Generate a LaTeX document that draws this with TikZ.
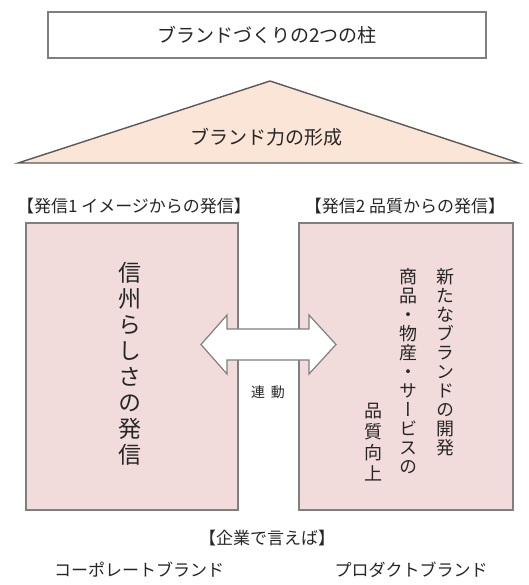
\documentclass[tikz,border=0pt]{standalone}
\usepackage{fontspec}
\usetikzlibrary{shadows}
\newfontfamily\jp{Noto Sans CJK JP}
\newfontfamily\jpv[RawFeature=+vert]{Noto Sans CJK JP}
\definecolor{pinkfill}{HTML}{F2DCDB}
\definecolor{peach}{HTML}{FBE5D6}
\definecolor{edge}{HTML}{7F7F7F}
\definecolor{ink}{HTML}{262626}
\begin{document}
\begin{tikzpicture}[x=1pt,y=-1pt,
  every node/.style={inner sep=0pt, text=ink},
  shadowbox/.style={draw=edge, line width=1.3pt,
    drop shadow={shadow xshift=1.2pt, shadow yshift=-1.2pt, fill=gray!60, opacity=0.8}},
  titlebox/.style={shadowbox, fill=white},
  pinkbox/.style={shadowbox, fill=pinkfill},
  tri/.style={draw=black!65, line width=1.4pt, fill=peach, line join=miter},
  fatarrow/.style={draw=edge, line width=1.2pt, fill=white, line join=miter},
  bigtxt/.style={font=\jp\fontsize{19}{19}\selectfont},
  midtxt/.style={font=\jp\fontsize{17}{17}\selectfont},
  smalltxt/.style={font=\jp\fontsize{14}{14}\selectfont},
  vleft/.style={anchor=north, align=center, font=\jpv\fontsize{23}{26}\selectfont},
  vright/.style={anchor=north, align=center, font=\jpv\fontsize{18}{19}\selectfont}
]
\useasboundingbox (0,0) rectangle (528,585);

% title box
\node[titlebox, minimum width=438pt, minimum height=46pt] (title) at (267,35) {};
\node[bigtxt] (titletxt) at (title.center) {ブランドづくりの2つの柱};

% roof triangle
\coordinate (tl) at (18,163);
\coordinate (tt) at (270,81);
\coordinate (tr) at (519,163);
\draw[tri] (tl) -- (tt) -- (tr) -- cycle;
\node[bigtxt] (rooftxt) at (266,137) {ブランド力の形成};

% column headings
\node[midtxt] (lhead) at (134,206) {【発信1 イメージからの発信】};
\node[midtxt] (rhead) at (405,206) {【発信2 品質からの発信】};

% pillars
\node[pinkbox, minimum width=212pt, minimum height=287pt] (lbox) at (132,366.5) {};
\node[pinkbox, minimum width=214pt, minimum height=287pt] (rbox) at (406,366.5) {};

% vertical texts
\node[vleft] (ltext) at (130,262) {信\\州\\ら\\し\\さ\\の\\発\\信};
\node[vright] (rcol1) at (445,268) {新\\た\\な\\ブ\\ラ\\ン\\ド\\の\\開\\発};
\node[vright] (rcol2) at (408,268) {商\\品\\・\\物\\産\\・\\サ\\ー\\ビ\\ス\\の};
\node[vright, font=\jpv\fontsize{18}{21}\selectfont] (rcol3) at (373,403) {品\\質\\向\\上};

% double arrow
\coordinate (al) at (201,344.5);
\coordinate (ar) at (336,344.5);
\draw[fatarrow] (al) -- (227,315) -- (227,329) -- (309,329) -- (309,315) -- (ar)
  -- (309,374) -- (309,360) -- (227,360) -- (227,374) -- cycle;
\node[smalltxt] (linked) at (268,392) {連\hspace{0.4em}動};

% bottom texts
\node[midtxt] (corp) at (267,538) {【企業で言えば】};
\node[midtxt] (cbrand) at (139,570) {コーポレートブランド};
\node[midtxt] (pbrand) at (411,570) {プロダクトブランド};
\end{tikzpicture}
\end{document}
